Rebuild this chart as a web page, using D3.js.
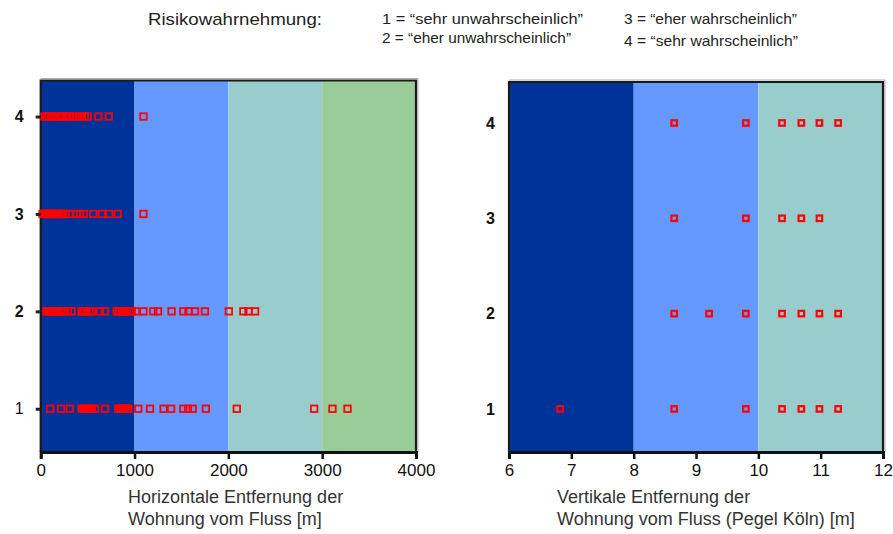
<!DOCTYPE html>
<html>
<head>
<meta charset="utf-8">
<script src="https://cdn.jsdelivr.net/npm/d3@7"></script>
<style>
  html, body { margin: 0; padding: 0; background: #fff; }
  svg { display: block; font-family: "Liberation Sans", Arial, sans-serif; }
</style>
</head>
<body>
<svg id="chart" width="893" height="534"></svg>
<script>
// risk perception levels (y)
const levels = [1, 2, 3, 4];

// horizontal distance [m] per level
const horiz1 = [100, 215, 310, 435, 450, 465, 480, 495, 510, 525, 545, 580, 685, 825, 840, 855, 870, 885, 900, 915, 935, 1040, 1165, 1310, 1390, 1520, 1570, 1620, 1760, 2090, 2915, 3110, 3270];
const horiz2 = [60, 75, 90, 105, 120, 135, 150, 165, 180, 200, 220, 240, 260, 290, 330, 435, 450, 465, 490, 520, 545, 630, 685, 810, 825, 840, 865, 880, 895, 920, 945, 970, 1015, 1095, 1200, 1250, 1395, 1520, 1575, 1645, 1750, 2005, 2160, 2215, 2285];
const horiz3 = [20, 35, 50, 65, 80, 95, 110, 125, 140, 160, 180, 200, 220, 240, 265, 305, 385, 420, 460, 560, 650, 730, 820, 1095];
const horiz4 = [40, 60, 80, 110, 130, 160, 185, 210, 230, 260, 285, 305, 340, 385, 420, 440, 470, 500, 615, 725, 1095];

// vertical distance [m] (gauge Köln) per level, right panel
const vert1 = [6.82, 8.65, 9.8, 10.38, 10.69, 10.98, 11.28];
const vert2 = [8.65, 9.21, 9.8, 10.38, 10.69, 10.98, 11.28];
const vert3 = [8.65, 9.8, 10.38, 10.69, 10.98];
const vert4 = [8.65, 9.8, 10.38, 10.69, 10.98, 11.28];

// background bands
const horizBands = [0, 1000, 2000, 3000, 4000];
const vertBands = [6, 8, 10, 12];
const bandColors = ['#003399', '#6699ff', '#99cccc', '#99cc99'];

const horizTicks = [0, 1000, 2000, 3000, 4000];
const vertTicks = [6, 7, 8, 9, 10, 11, 12];

const legendLines = [
  '1 = \u201csehr unwahrscheinlich\u201d',
  '2 = \u201ceher unwahrscheinlich\u201d',
  '3 = \u201ceher wahrscheinlich\u201d',
  '4 = \u201csehr wahrscheinlich\u201d'
];

const svg = d3.select('#chart');

// header
svg.append('text')
  .attr('x', 148).attr('y', 25)
  .attr('font-size', '17px').attr('fill', '#222')
  .attr('textLength', 174).attr('lengthAdjust', 'spacingAndGlyphs')
  .text('Risikowahrnehmung:');

const legendPos = [
  { x: 382, y: 24, w: 201 },
  { x: 382, y: 43, w: 189 },
  { x: 624, y: 24, w: 173 },
  { x: 624, y: 46, w: 174 }
];
legendLines.forEach((t, i) => {
  svg.append('text')
    .attr('x', legendPos[i].x).attr('y', legendPos[i].y)
    .attr('font-size', '14px').attr('fill', '#222')
    .attr('textLength', legendPos[i].w).attr('lengthAdjust', 'spacingAndGlyphs')
    .text(t);
});

function panel(opts) {
  const { left, right, top, bottom, xDomain, yDomain, bands, colors, rows, ticks, boldOne, yTickMarks, sq, sw, title, titleX } = opts;

  const x = d3.scaleLinear().domain(xDomain).range([left, right]);
  const y = d3.scaleLinear().domain(yDomain).range([bottom, top]);
  const g = svg.append('g');

  // bands
  g.selectAll('rect.band')
    .data(d3.pairs(bands))
    .join('rect')
    .attr('x', d => x(d[0]))
    .attr('y', top)
    .attr('width', d => x(d[1]) - x(d[0]))
    .attr('height', bottom - top)
    .attr('fill', (d, i) => colors[i]);

  // light shadow on top and right
  g.append('path')
    .attr('d', `M${left},${top - 2} H${right + 2} V${bottom}`)
    .attr('fill', 'none').attr('stroke', '#aaa').attr('stroke-width', 1);

  // frame
  g.append('path')
    .attr('d', `M${left},${bottom} V${top} H${right} V${bottom}`)
    .attr('fill', 'none').attr('stroke', '#1a1a1a').attr('stroke-width', 2.2);

  // points
  rows.forEach((vals, i) => {
    g.selectAll(null)
      .data(vals)
      .join('rect')
      .attr('x', d => x(d) - sq / 2)
      .attr('y', y(levels[i]) - sq / 2)
      .attr('width', sq).attr('height', sq)
      .attr('fill', 'none')
      .attr('stroke', '#ff0000')
      .attr('stroke-width', sw);
  });

  // x axis
  const xa = g.append('g')
    .attr('transform', `translate(0,${bottom})`)
    .call(d3.axisBottom(x).tickValues(ticks).tickSize(7).tickPadding(5).tickFormat(d3.format('d')));
  xa.select('.domain').attr('stroke', '#111').attr('stroke-width', 3);
  xa.selectAll('.tick line').attr('stroke', '#111').attr('stroke-width', 2.5);
  xa.selectAll('.tick text')
    .attr('font-family', '"Liberation Sans", Arial, sans-serif')
    .attr('font-size', '17px').attr('fill', '#111');

  // y axis
  const ya = g.append('g')
    .attr('transform', `translate(${left},0)`)
    .call(d3.axisLeft(y).tickValues(levels).tickSize(yTickMarks ? 5 : 0).tickPadding(yTickMarks ? 12 : 14).tickFormat(d3.format('d')));
  ya.select('.domain').remove();
  ya.selectAll('.tick line').attr('stroke', '#222').attr('stroke-width', 3);
  ya.selectAll('.tick text')
    .attr('font-family', '"Liberation Sans", Arial, sans-serif')
    .attr('font-size', '16px').attr('fill', '#111')
    .attr('font-weight', d => (d === 1 && !boldOne) ? 'normal' : 'bold');

  // axis title
  title.forEach((t, i) => {
    svg.append('text')
      .attr('x', titleX).attr('y', 503 + i * 22)
      .attr('font-size', '18px').attr('fill', '#333')
      .text(t);
  });
}

panel({
  left: 40.7, right: 416, top: 80.5, bottom: 452,
  xDomain: [0, 4000], yDomain: [0.556, 4.37],
  bands: horizBands, colors: bandColors,
  rows: [horiz1, horiz2, horiz3, horiz4],
  ticks: horizTicks, boldOne: false, yTickMarks: true,
  sq: 6.5, sw: 1.8,
  title: ['Horizontale Entfernung der', 'Wohnung vom Fluss [m]'], titleX: 128
});

panel({
  left: 509, right: 883, top: 82, bottom: 452,
  xDomain: [6, 12], yDomain: [0.548, 4.43],
  bands: vertBands, colors: bandColors,
  rows: [vert1, vert2, vert3, vert4],
  ticks: vertTicks, boldOne: true, yTickMarks: false,
  sq: 5.5, sw: 2.2,
  title: ['Vertikale Entfernung der', 'Wohnung vom Fluss (Pegel Köln) [m]'], titleX: 557
});
</script>
</body>
</html>
